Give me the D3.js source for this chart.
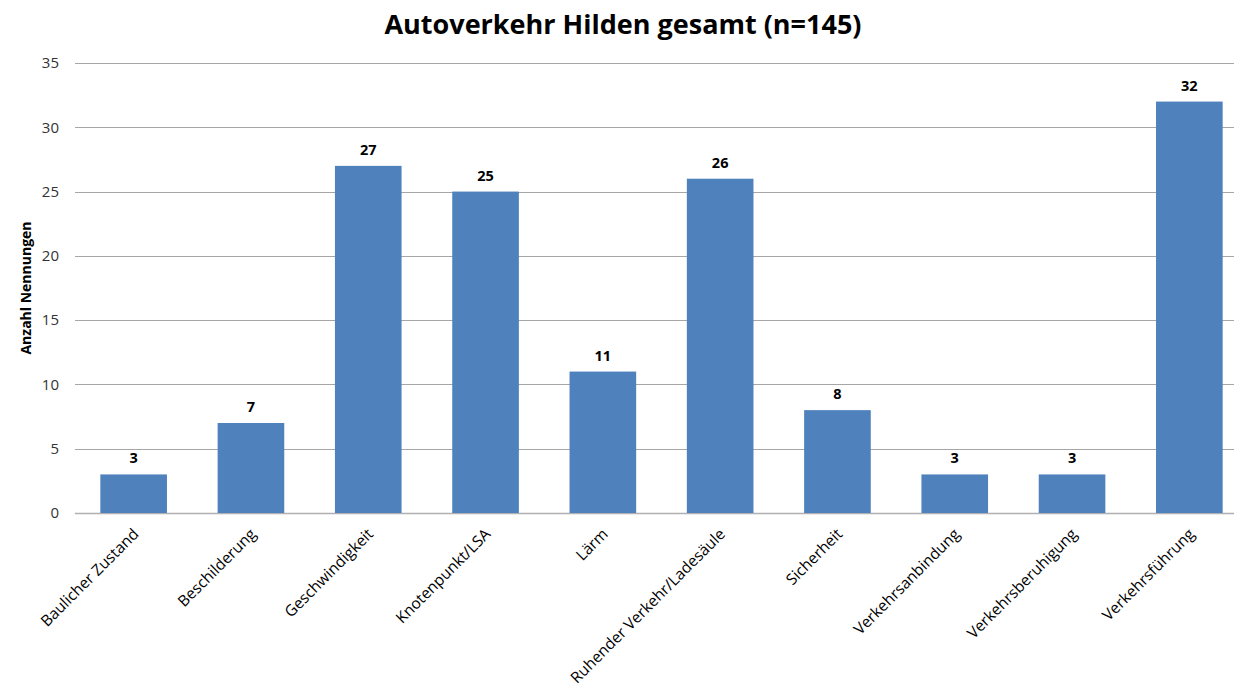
<!DOCTYPE html>
<html>
<head>
<meta charset="utf-8">
<script src="https://cdn.jsdelivr.net/npm/d3@7"></script>
<style>
  body { margin: 0; background: #fff; }
  svg { display: block; font-family: "Open Sans", "Noto Sans", sans-serif; }
</style>
</head>
<body>
<svg id="chart" width="1234" height="687"></svg>
<script>
// data
const categories = ['Baulicher Zustand', 'Beschilderung', 'Geschwindigkeit', 'Knotenpunkt/LSA', 'Lärm',
  'Ruhender Verkehr/Ladesäule', 'Sicherheit', 'Verkehrsanbindung', 'Verkehrsberuhigung', 'Verkehrsführung'];
const values = [3, 7, 27, 25, 11, 26, 8, 3, 3, 32];
const yTicks = [0, 5, 10, 15, 20, 25, 30, 35];
const title = 'Autoverkehr Hilden gesamt (n=145)';
const yLabel = 'Anzahl Nennungen';

const svg = d3.select('#chart');
const margin = { top: 63, left: 75, bottom: 174 };
const plotRight = 1248;
const plotBottom = 687 - margin.bottom;

const x = d3.scaleBand()
  .domain(categories)
  .range([margin.left, plotRight])
  .paddingInner(0.432)
  .paddingOuter(0.216);

const y = d3.scaleLinear()
  .domain([0, 35])
  .range([plotBottom, margin.top]);

// gridlines
svg.append('g')
  .selectAll('line')
  .data(yTicks)
  .enter()
  .append('line')
  .attr('x1', margin.left)
  .attr('x2', plotRight)
  .attr('y1', d => Math.round(y(d)) + 0.5)
  .attr('y2', d => Math.round(y(d)) + 0.5)
  .attr('stroke', d => d === 0 ? '#b0b0b0' : '#a6a6a6')
  .attr('stroke-width', d => d === 0 ? 1.5 : 1);

// y tick labels
svg.append('g')
  .selectAll('text')
  .data(yTicks)
  .enter()
  .append('text')
  .attr('x', 59)
  .attr('y', d => y(d))
  .attr('dy', '0.35em')
  .attr('text-anchor', 'end')
  .attr('font-size', 15)
  .attr('fill', '#333')
  .text(d => d);

// bars
svg.append('g')
  .selectAll('rect')
  .data(values)
  .enter()
  .append('rect')
  .attr('x', (d, i) => x(categories[i]))
  .attr('y', d => y(d))
  .attr('width', x.bandwidth())
  .attr('height', d => y(0) - y(d))
  .attr('fill', '#4f81bd');

// value labels
svg.append('g')
  .selectAll('text')
  .data(values)
  .enter()
  .append('text')
  .attr('x', (d, i) => x(categories[i]) + x.bandwidth() / 2)
  .attr('y', d => y(d) - 11)
  .attr('text-anchor', 'middle')
  .attr('font-size', 14.5)
  .attr('font-weight', 'bold')
  .attr('fill', '#000')
  .text(d => d);

// category labels
svg.append('g')
  .selectAll('text')
  .data(categories)
  .enter()
  .append('text')
  .attr('transform', d => `translate(${x(d) + x.bandwidth() / 2 + 6},${plotBottom + 22}) rotate(-45)`)
  .attr('text-anchor', 'end')
  .attr('font-size', 15.5)
  .attr('fill', '#000')
  .text(d => d);

// title
svg.append('text')
  .attr('x', 623)
  .attr('y', 34)
  .attr('text-anchor', 'middle')
  .attr('font-size', 27)
  .attr('font-weight', 'bold')
  .text(title);

// y axis label
svg.append('text')
  .attr('transform', `translate(31,${(margin.top + plotBottom) / 2}) rotate(-90)`)
  .attr('text-anchor', 'middle')
  .attr('font-size', 14)
  .attr('font-weight', 'bold')
  .text(yLabel);
</script>
</body>
</html>
